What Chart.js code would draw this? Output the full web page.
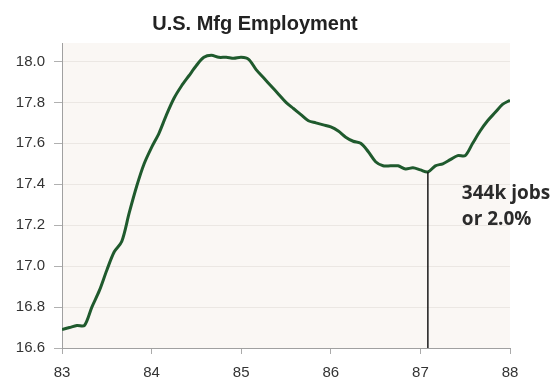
<!DOCTYPE html>
<html>
<head>
<meta charset="utf-8">
<script src="https://cdn.jsdelivr.net/npm/chart.js@4.4.1/dist/chart.umd.min.js"></script>
<style>
  html, body { margin: 0; padding: 0; background: #ffffff; }
  #wrap { width: 558px; height: 378px; }
</style>
</head>
<body>
<div id="wrap"><canvas id="mfgChart"></canvas></div>
<script>
// Monthly U.S. manufacturing employment (millions), Jan 1983 onward
const startYear = 83;
const employment = [
    16.69, 16.70, 16.71, 16.71, 16.80, 16.88, 16.98, 17.07, 17.12, 17.26, 17.39, 17.50,
    17.58, 17.65, 17.74, 17.82, 17.88, 17.93, 17.98, 18.02, 18.03, 18.02, 18.02, 18.015,
    18.02, 18.01, 17.96, 17.92, 17.88, 17.84, 17.80, 17.77, 17.74, 17.71, 17.70, 17.69,
    17.68, 17.66, 17.63, 17.61, 17.60, 17.56, 17.51, 17.49, 17.49, 17.49, 17.475, 17.48,
    17.47, 17.46, 17.49, 17.50, 17.52, 17.54, 17.54, 17.60, 17.66, 17.71, 17.75, 17.79,
    17.81
];
const yearLabels = ['83', '84', '85', '86', '87', '88'];
const yTicks = [16.6, 16.8, 17.0, 17.2, 17.4, 17.6, 17.8, 18.0];

// Trough callout
const troughIndex = 49;
const calloutLines = ['344k jobs', 'or 2.0%'];

const points = employment.map((v, i) => ({ x: startYear + i / 12, y: v }));

// Shaded plot area behind the line
const plotBackground = {
    id: 'plotBackground',
    beforeDraw(chart) {
        const { ctx, chartArea } = chart;
        ctx.save();
        ctx.fillStyle = '#faf7f4';
        ctx.fillRect(chartArea.left, chartArea.top, chartArea.right - chartArea.left, chartArea.bottom - chartArea.top);
        ctx.restore();
    }
};

// Drop line from the trough and the job-loss note
const troughCallout = {
    id: 'troughCallout',
    afterDatasetsDraw(chart) {
        const { ctx, chartArea, scales } = chart;
        const px = scales.x.getPixelForValue(points[troughIndex].x);
        const py = scales.y.getPixelForValue(points[troughIndex].y);
        ctx.save();
        ctx.strokeStyle = '#1a1a1a';
        ctx.lineWidth = 1.5;
        ctx.beginPath();
        ctx.moveTo(px, py);
        ctx.lineTo(px, chartArea.bottom);
        ctx.stroke();

        ctx.fillStyle = '#2b2b2b';
        ctx.font = 'bold 19px "Open Sans", sans-serif';
        ctx.textAlign = 'left';
        ctx.textBaseline = 'alphabetic';
        calloutLines.forEach((line, i) => {
            ctx.fillText(line, px + 34, py + 27 + i * 26);
        });
        ctx.restore();
    }
};

const ctx = document.getElementById('mfgChart').getContext('2d');
new Chart(ctx, {
    type: 'line',
    data: {
        datasets: [{
            data: points,
            borderColor: '#1f5a2d',
            borderWidth: 3,
            pointRadius: 0,
            tension: 0.3,
            fill: false
        }]
    },
    options: {
        responsive: true,
        maintainAspectRatio: false,
        animation: false,
        layout: { padding: { left: 0, right: 48, top: 0, bottom: 0 } },
        plugins: {
            legend: { display: false },
            tooltip: { enabled: false },
            title: {
                display: true,
                text: 'U.S. Mfg Employment',
                color: '#222222',
                font: { family: 'Arial, "Liberation Sans", sans-serif', size: 20, weight: 'bold' },
                padding: { top: 12, bottom: 7 }
            }
        },
        scales: {
            x: {
                type: 'linear',
                min: startYear,
                max: startYear + yearLabels.length - 1,
                afterBuildTicks: axis => {
                    axis.ticks = yearLabels.map((_, i) => ({ value: startYear + i }));
                },
                afterFit: axis => { axis.height = 30; },
                grid: { drawOnChartArea: false, tickLength: 6, tickColor: '#aaaaaa' },
                border: { color: '#a0a0a0', width: 1 },
                ticks: {
                    color: '#333333',
                    padding: 10,
                    font: { family: 'Arial, "Liberation Sans", sans-serif', size: 15 },
                    callback: (value, i) => yearLabels[i]
                }
            },
            y: {
                min: 16.6,
                max: 18.09,
                afterBuildTicks: axis => {
                    axis.ticks = yTicks.map(v => ({ value: v }));
                },
                afterFit: axis => { axis.width = 62; },
                grid: { color: '#ebe7e3', tickLength: 8, tickColor: '#b0b0b0' },
                border: { color: '#a0a0a0', width: 1 },
                ticks: {
                    color: '#333333',
                    padding: 9,
                    font: { family: 'Arial, "Liberation Sans", sans-serif', size: 15 },
                    callback: value => value.toFixed(1)
                }
            }
        }
    },
    plugins: [plotBackground, troughCallout]
});
</script>
</body>
</html>
